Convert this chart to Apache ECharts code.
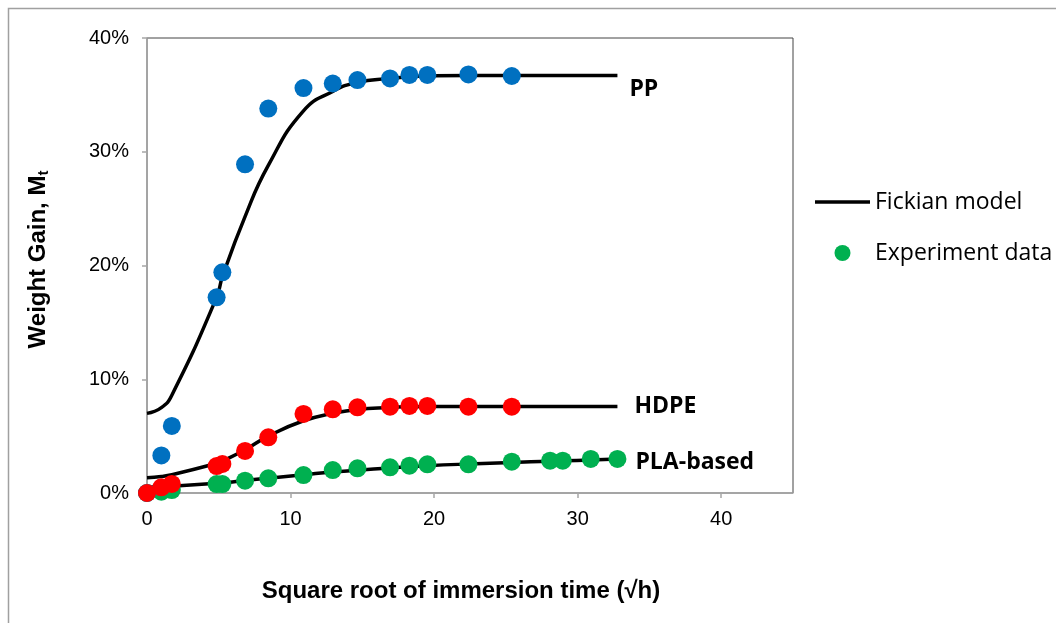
<!DOCTYPE html>
<html>
<head>
<meta charset="utf-8">
<script src="https://cdn.jsdelivr.net/npm/echarts@6/dist/echarts.min.js"></script>
<style>
  html, body { margin: 0; padding: 0; background: #fff; }
  #chart { width: 1056px; height: 623px; }
</style>
</head>
<body>
<div id="chart"></div>
<script>
// Square root of immersion time (√h) at each weighing
const timeRoot = [0, 1.0, 1.73, 4.85, 5.25, 6.83, 8.45, 10.9, 12.94, 14.66, 16.93, 18.28, 19.53, 22.39, 25.41, 28.08, 28.96, 30.91, 32.77];

// Measured weight gain, % (PP and HDPE stop at √h = 25.41)
const ppData   = [0, 3.3, 5.9, 17.2, 19.4, 28.9, 33.8, 35.6, 36.0, 36.3, 36.45, 36.75, 36.75, 36.8, 36.66];
const hdpeData = [0, 0.5, 0.8, 2.37, 2.55, 3.7, 4.9, 6.95, 7.36, 7.53, 7.59, 7.65, 7.65, 7.59, 7.59];
const plaData  = [0, 0.12, 0.26, 0.79, 0.79, 1.08, 1.29, 1.58, 2.02, 2.17, 2.26, 2.4, 2.52, 2.52, 2.75, 2.84, 2.84, 2.99, 2.99];

// Fickian model curves, % (same time points)
const ppModel   = [7.0, 7.5, 8.6, 17.2, 19.0, 24.3, 28.8, 33.6, 35.3, 36.1, 36.45, 36.6, 36.66, 36.7, 36.7, 36.7, 36.7, 36.7, 36.7];
const hdpeModel = [1.35, 1.45, 1.6, 2.6, 2.8, 3.8, 5.0, 6.35, 7.0, 7.35, 7.52, 7.58, 7.6, 7.6, 7.6, 7.6, 7.6, 7.6, 7.6];
const plaModel  = [0.5, 0.55, 0.6, 0.85, 0.88, 1.1, 1.3, 1.6, 1.85, 2.0, 2.2, 2.3, 2.4, 2.55, 2.68, 2.8, 2.83, 2.9, 2.98];

const materialNames = ['PP', 'HDPE', 'PLA-based'];
const yTicks = [0, 10, 20, 30, 40];
const xTicks = [0, 10, 20, 30, 40];

const pairs = (xs, ys) => ys.map((v, i) => [xs[i], v]);

const labelFont = 'Open Sans';
const axisFont = 'Liberation Sans';

function modelSeries(values, label, offset) {
  return {
    name: 'Fickian model',
    type: 'line',
    data: pairs(timeRoot, values),
    symbol: 'none',
    smooth: 0.5,
    lineStyle: { color: '#000', width: 3.5 },
    itemStyle: { color: '#000' },
    z: 2,
    silent: true,
    endLabel: {
      show: true,
      formatter: () => label,
      offset: offset,
      fontFamily: labelFont,
      fontWeight: 'bold',
      fontSize: 23,
      color: '#000'
    }
  };
}

function dataSeries(name, values, color, z) {
  return {
    name: name,
    type: 'scatter',
    data: pairs(timeRoot, values),
    symbol: 'circle',
    symbolSize: 18,
    itemStyle: { color: color, opacity: 1 },
    z: z,
    silent: true
  };
}

const chart = echarts.init(document.getElementById('chart'), null, { renderer: 'canvas' });

chart.setOption({
  animation: false,
  backgroundColor: '#fff',
  grid: {
    left: 147, top: 38, right: 263, bottom: 130,
    show: true, borderColor: '#444', borderWidth: 1, backgroundColor: 'transparent'
  },
  graphic: [{
    type: 'rect',
    shape: { x: 8.5, y: 8.5, width: 1200, height: 800 },
    style: { fill: 'none', stroke: '#a0a0a0', lineWidth: 1.5 },
    silent: true, z: -1
  }],
  legend: {
    data: [
      { name: 'Fickian model', icon: 'path://M0,0 H55 V3.5 H0 Z', itemStyle: { color: '#000' } },
      { name: 'Experiment data', icon: 'circle' }
    ],
    orient: 'vertical',
    left: 815, top: 190,
    padding: 0,
    itemWidth: 55, itemHeight: 16, itemGap: 27,
    selectedMode: false,
    textStyle: { fontFamily: labelFont, fontSize: 23, color: '#000', lineHeight: 24 }
  },
  xAxis: {
    type: 'value',
    min: 0, max: 45, interval: 10,
    name: 'Square root of immersion time (√h)',
    nameLocation: 'middle',
    nameGap: 86,
    nameTextStyle: { fontFamily: axisFont, fontWeight: 'bold', fontSize: 24, color: '#000', padding: [0, 18, 0, 0] },
    axisLine: { show: true, lineStyle: { color: '#a6a6a6', width: 1.5 } },
    axisTick: { show: true, length: 5, lineStyle: { color: '#a6a6a6', width: 1.5 } },
    splitLine: { show: false },
    axisLabel: {
      showMaxLabel: false,
      margin: 16,
      fontFamily: axisFont, fontSize: 20, color: '#000',
      formatter: v => (xTicks.includes(v) ? String(v) : '')
    }
  },
  yAxis: {
    type: 'value',
    min: 0, max: 40, interval: 10,
    name: 'Weight Gain, M{t|t}',
    nameLocation: 'middle',
    nameRotate: 90,
    nameGap: 96,
    nameTextStyle: {
      fontFamily: axisFont, fontWeight: 'bold', fontSize: 24, color: '#000',
      padding: [0, 0, 0, 12],
      rich: { t: { fontFamily: axisFont, fontWeight: 'bold', fontSize: 15, color: '#000', verticalAlign: 'bottom', padding: [10, 0, 0, 0] } }
    },
    axisLine: { show: true, lineStyle: { color: '#a6a6a6', width: 1.5 } },
    axisTick: { show: true, length: 5, lineStyle: { color: '#a6a6a6', width: 1.5 } },
    splitLine: { show: false },
    axisLabel: {
      margin: 18,
      fontFamily: axisFont, fontSize: 20, color: '#000',
      formatter: v => (yTicks.includes(v) ? v + '%' : '')
    }
  },
  series: [
    modelSeries(ppModel, materialNames[0], [4, 14]),
    modelSeries(hdpeModel, materialNames[1], [9, 0]),
    modelSeries(plaModel, materialNames[2], [10, 3]),
    dataSeries('Experiment data', plaData, '#00B050', 5),
    dataSeries('PP experiment', ppData, '#0070C0', 6),
    dataSeries('HDPE experiment', hdpeData, '#FF0000', 7)
  ]
});
</script>
</body>
</html>
